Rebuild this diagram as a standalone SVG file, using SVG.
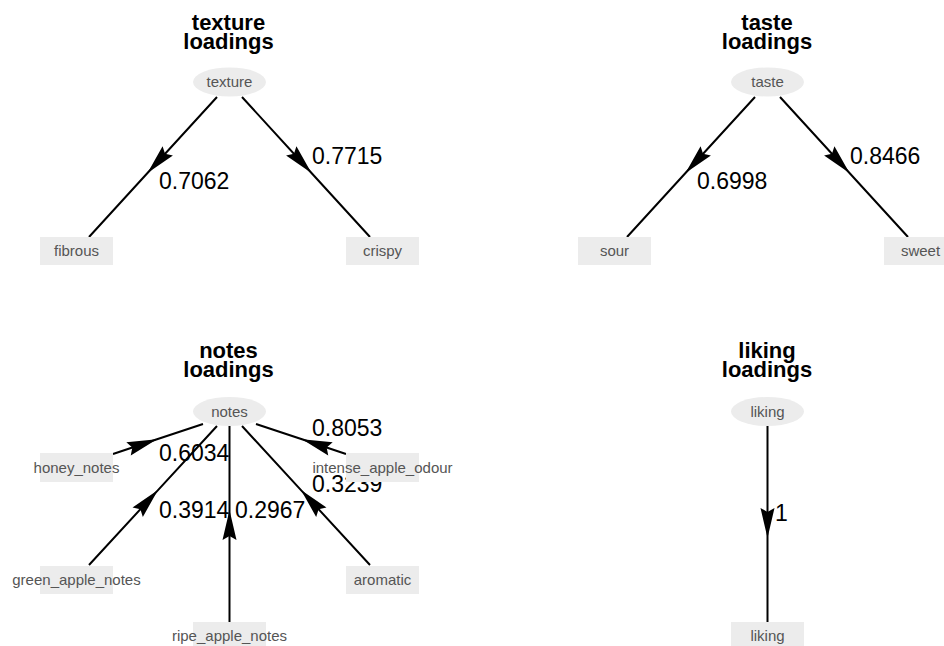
<svg xmlns="http://www.w3.org/2000/svg" width="944" height="646" viewBox="0 0 944 646">
<style>
.title{font-family:"Liberation Sans",Arial,sans-serif;font-size:22px;font-weight:bold;fill:#000;text-anchor:middle}
.lab{font-family:"Liberation Sans",Arial,sans-serif;font-size:15px;fill:#555;text-anchor:middle}
.el{font-family:"Liberation Sans",Arial,sans-serif;font-size:23px;fill:#000}
.nd{fill:#ececec;stroke:none}
.edge{fill:none;stroke:#000;stroke-width:2;marker-mid:url(#ah)}
</style>
<defs>
<marker id="ah" markerUnits="userSpaceOnUse" orient="auto" viewBox="-35 -10 40 20" refX="0" refY="0" markerWidth="40" markerHeight="20" overflow="visible">
<polygon points="0,0 -30,-7 -26,0 -30,7" fill="#000"/>
</marker>
</defs>
<rect width="944" height="646" fill="#fff"/>
<g id="titles">
<text class="title" x="228.5" y="30">texture</text>
<text class="title" x="228.5" y="49">loadings</text>
<text class="title" x="767" y="30">taste</text>
<text class="title" x="767" y="49">loadings</text>
<text class="title" x="228.5" y="358">notes</text>
<text class="title" x="228.5" y="377">loadings</text>
<text class="title" x="767" y="358">liking</text>
<text class="title" x="767" y="377">loadings</text>
</g>
<g id="connectors">
<path class="edge" d="M217,97 L147.5,173 L89,237"/>
<path class="edge" d="M242,97 L311.5,173 L370,237"/>
<path class="edge" d="M755,97 L685.5,173 L627,237"/>
<path class="edge" d="M780,97 L849.5,173 L908,237"/>
<path class="edge" d="M113,454 L157,439.3 L203,424"/>
<path class="edge" d="M346,454 L302,439.3 L256,424"/>
<path class="edge" d="M89,565 L158,490.1 L217,426"/>
<path class="edge" d="M370,565 L301,490.1 L242,426"/>
<path class="edge" d="M229.5,622 L229.5,510 L229.5,426"/>
<path class="edge" d="M767.5,426 L767.5,538 L767.5,622"/>
<text class="el" x="159" y="189">0.7062</text>
<text class="el" x="312" y="164">0.7715</text>
<text class="el" x="697" y="189">0.6998</text>
<text class="el" x="850" y="164">0.8466</text>
<text class="el" x="159" y="461">0.6034</text>
<text class="el" x="312" y="436">0.8053</text>
<text class="el" x="159" y="518">0.3914</text>
<text class="el" x="235" y="518">0.2967</text>
<text class="el" x="312" y="492">0.3239</text>
<text class="el" x="775" y="521">1</text>
</g>
<g id="texture"><ellipse class="nd" cx="229.5" cy="82" rx="36.5" ry="14.5"/><text class="lab" x="229.5" y="87">texture</text></g>
<g id="fibrous"><rect class="nd" x="40" y="237" width="73" height="28"/><text class="lab" x="76.5" y="256">fibrous</text></g>
<g id="crispy"><rect class="nd" x="346" y="237" width="73" height="28"/><text class="lab" x="382.5" y="256">crispy</text></g>
<g id="taste"><ellipse class="nd" cx="767.5" cy="82" rx="36.5" ry="14.5"/><text class="lab" x="767.5" y="87">taste</text></g>
<g id="sour"><rect class="nd" x="578" y="237" width="73" height="28"/><text class="lab" x="614.5" y="256">sour</text></g>
<g id="sweet"><rect class="nd" x="884" y="237" width="73" height="28"/><text class="lab" x="920.5" y="256">sweet</text></g>
<g id="notes"><ellipse class="nd" cx="229.5" cy="411.5" rx="36.5" ry="14.5"/><text class="lab" x="229.5" y="416.5">notes</text></g>
<g id="honey_notes"><rect class="nd" x="40" y="453" width="73" height="29"/><text class="lab" x="76.5" y="473">honey_notes</text></g>
<g id="intense_apple_odour"><rect class="nd" x="346" y="453" width="73" height="29"/><text class="lab" x="382.5" y="473">intense_apple_odour</text></g>
<g id="green_apple_notes"><rect class="nd" x="40" y="566" width="73" height="28"/><text class="lab" x="76.5" y="585">green_apple_notes</text></g>
<g id="aromatic"><rect class="nd" x="346" y="566" width="73" height="28"/><text class="lab" x="382.5" y="585">aromatic</text></g>
<g id="ripe_apple_notes"><rect class="nd" x="193" y="622" width="73" height="28"/><text class="lab" x="229.5" y="641">ripe_apple_notes</text></g>
<g id="liking"><ellipse class="nd" cx="767.5" cy="411.5" rx="36.5" ry="14.5"/><text class="lab" x="767.5" y="416.5">liking</text></g>
<g id="liking_ind"><rect class="nd" x="731" y="622" width="73" height="28"/><text class="lab" x="767.5" y="641">liking</text></g>
</svg>
